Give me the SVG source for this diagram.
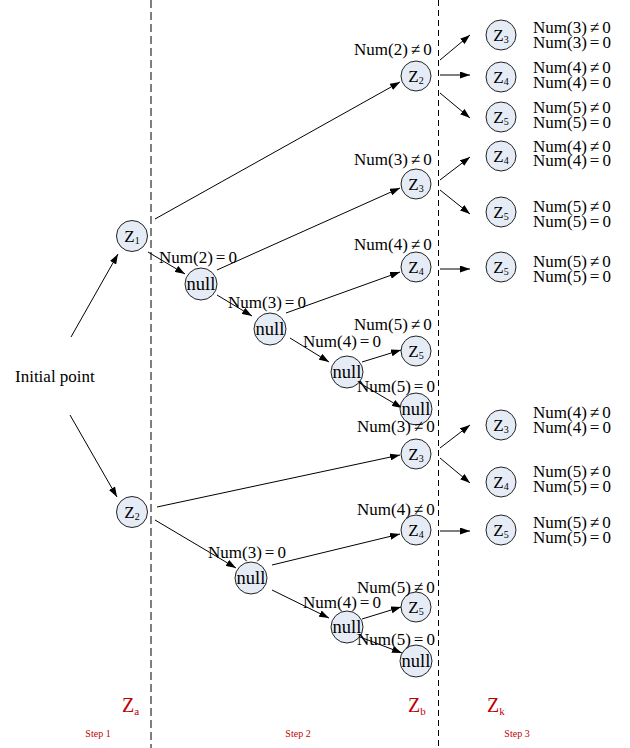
<svg xmlns="http://www.w3.org/2000/svg" width="630" height="748" viewBox="0 0 630 748">
<style>
text{font-family:"Liberation Serif","Times New Roman",serif;fill:#000}
.lbl{font-size:17px}
.nd circle{fill:#e6ecf6;stroke:#222;stroke-width:1}
.zt{font-size:17px}
.nt{font-size:18.5px}
.sub{font-size:10px}
.red{fill:#c00000}
.cn line{stroke:#000;stroke-width:1;marker-end:url(#ah)}
</style>
<defs>
<marker id="ah" viewBox="0 0 10 7" refX="10" refY="3.5" markerWidth="10" markerHeight="7" markerUnits="userSpaceOnUse" orient="auto"><path d="M0,0 L10,3.5 L0,7 z" fill="#000"/></marker>
</defs>
<g id="dividers">
<line x1="151" y1="0" x2="151" y2="748" stroke="#555" stroke-width="1.5" stroke-dasharray="8,4"/>
<line x1="438.5" y1="0" x2="438.5" y2="748" stroke="#000" stroke-width="1" stroke-dasharray="6,4"/>
</g>
<g id="connectors" class="cn">
<line x1="71" y1="337" x2="118" y2="254"/>
<line x1="70" y1="415" x2="117" y2="497"/>
<line x1="155" y1="219" x2="400" y2="82"/>
<line x1="148" y1="252" x2="185" y2="274"/>
<line x1="217" y1="270" x2="400" y2="188"/>
<line x1="217" y1="295" x2="252" y2="316"/>
<line x1="286" y1="313" x2="400" y2="272"/>
<line x1="290" y1="338" x2="329" y2="362"/>
<line x1="362" y1="362" x2="401" y2="350"/>
<line x1="358" y1="382" x2="402" y2="408"/>
<line x1="157" y1="507" x2="400" y2="455"/>
<line x1="155" y1="520" x2="236" y2="568"/>
<line x1="272" y1="565" x2="400" y2="534"/>
<line x1="272" y1="590" x2="329" y2="618"/>
<line x1="362" y1="619" x2="401" y2="607"/>
<line x1="360" y1="637" x2="402" y2="653"/>
<line x1="440" y1="60" x2="470" y2="35"/>
<line x1="440" y1="75" x2="470" y2="75"/>
<line x1="440" y1="93" x2="470" y2="118"/>
<line x1="440" y1="180" x2="470" y2="157"/>
<line x1="440" y1="190" x2="470" y2="214"/>
<line x1="440" y1="269" x2="470" y2="269"/>
<line x1="440" y1="448" x2="470" y2="425"/>
<line x1="440" y1="458" x2="470" y2="483"/>
<line x1="440" y1="531" x2="470" y2="531"/>
</g>
<g id="initial"><text class="lbl" x="15" y="382">Initial point</text></g>
<g id="z1" class="nd"><circle cx="132" cy="236" r="15.5"/><text class="zt" x="132" y="242" text-anchor="middle">Z<tspan class="sub" dy="2">1</tspan></text></g>
<g id="z2l" class="nd"><circle cx="132" cy="512" r="15.5"/><text class="zt" x="132" y="518" text-anchor="middle">Z<tspan class="sub" dy="2">2</tspan></text></g>
<g id="null1" class="nd"><circle cx="201" cy="284" r="16"/><text class="nt" x="201" y="290" text-anchor="middle">null</text></g>
<g id="null2" class="nd"><circle cx="270" cy="329" r="16"/><text class="nt" x="270" y="335" text-anchor="middle">null</text></g>
<g id="null3" class="nd"><circle cx="347" cy="372" r="16"/><text class="nt" x="347" y="378" text-anchor="middle">null</text></g>
<g id="null4" class="nd"><circle cx="416" cy="409" r="16"/><text class="nt" x="416" y="415" text-anchor="middle">null</text></g>
<g id="null5" class="nd"><circle cx="251" cy="578" r="16"/><text class="nt" x="251" y="584" text-anchor="middle">null</text></g>
<g id="null6" class="nd"><circle cx="347" cy="627" r="16"/><text class="nt" x="347" y="633" text-anchor="middle">null</text></g>
<g id="null7" class="nd"><circle cx="416" cy="661" r="16"/><text class="nt" x="416" y="667" text-anchor="middle">null</text></g>
<g id="m_z2" class="nd"><circle cx="416" cy="76" r="15"/><text class="zt" x="416" y="82" text-anchor="middle">Z<tspan class="sub" dy="2">2</tspan></text></g>
<g id="m_z3a" class="nd"><circle cx="416" cy="184" r="15"/><text class="zt" x="416" y="190" text-anchor="middle">Z<tspan class="sub" dy="2">3</tspan></text></g>
<g id="m_z4a" class="nd"><circle cx="416" cy="267" r="15"/><text class="zt" x="416" y="273" text-anchor="middle">Z<tspan class="sub" dy="2">4</tspan></text></g>
<g id="m_z5a" class="nd"><circle cx="416" cy="351" r="15"/><text class="zt" x="416" y="357" text-anchor="middle">Z<tspan class="sub" dy="2">5</tspan></text></g>
<g id="m_z3b" class="nd"><circle cx="416" cy="454" r="15"/><text class="zt" x="416" y="460" text-anchor="middle">Z<tspan class="sub" dy="2">3</tspan></text></g>
<g id="m_z4b" class="nd"><circle cx="416" cy="530" r="15"/><text class="zt" x="416" y="536" text-anchor="middle">Z<tspan class="sub" dy="2">4</tspan></text></g>
<g id="m_z5b" class="nd"><circle cx="416" cy="607" r="15"/><text class="zt" x="416" y="613" text-anchor="middle">Z<tspan class="sub" dy="2">5</tspan></text></g>
<g id="r_z3a" class="nd"><circle cx="501" cy="35" r="15"/><text class="zt" x="501" y="41" text-anchor="middle">Z<tspan class="sub" dy="2">3</tspan></text></g>
<g id="r_z4a" class="nd"><circle cx="501" cy="77" r="15"/><text class="zt" x="501" y="83" text-anchor="middle">Z<tspan class="sub" dy="2">4</tspan></text></g>
<g id="r_z5a" class="nd"><circle cx="501" cy="117" r="15"/><text class="zt" x="501" y="123" text-anchor="middle">Z<tspan class="sub" dy="2">5</tspan></text></g>
<g id="r_z4b" class="nd"><circle cx="501" cy="156" r="15"/><text class="zt" x="501" y="162" text-anchor="middle">Z<tspan class="sub" dy="2">4</tspan></text></g>
<g id="r_z5b" class="nd"><circle cx="501" cy="212" r="15"/><text class="zt" x="501" y="218" text-anchor="middle">Z<tspan class="sub" dy="2">5</tspan></text></g>
<g id="r_z5c" class="nd"><circle cx="501" cy="267" r="15"/><text class="zt" x="501" y="273" text-anchor="middle">Z<tspan class="sub" dy="2">5</tspan></text></g>
<g id="r_z3b" class="nd"><circle cx="501" cy="425" r="15"/><text class="zt" x="501" y="431" text-anchor="middle">Z<tspan class="sub" dy="2">3</tspan></text></g>
<g id="r_z4c" class="nd"><circle cx="501" cy="482" r="15"/><text class="zt" x="501" y="488" text-anchor="middle">Z<tspan class="sub" dy="2">4</tspan></text></g>
<g id="r_z5d" class="nd"><circle cx="501" cy="530" r="15"/><text class="zt" x="501" y="536" text-anchor="middle">Z<tspan class="sub" dy="2">5</tspan></text></g>
<g id="labels" class="lbl">
<text class="lbl" x="354" y="55">Num(2)<tspan dx="3">≠</tspan><tspan dx="3">0</tspan></text>
<text class="lbl" x="354" y="165">Num(3)<tspan dx="3">≠</tspan><tspan dx="3">0</tspan></text>
<text class="lbl" x="354" y="250">Num(4)<tspan dx="3">≠</tspan><tspan dx="3">0</tspan></text>
<text class="lbl" x="159" y="263">Num(2)<tspan dx="3">=</tspan><tspan dx="3">0</tspan></text>
<text class="lbl" x="228" y="308">Num(3)<tspan dx="3">=</tspan><tspan dx="3">0</tspan></text>
<text class="lbl" x="354" y="330">Num(5)<tspan dx="3">≠</tspan><tspan dx="3">0</tspan></text>
<text class="lbl" x="303" y="347">Num(4)<tspan dx="3">=</tspan><tspan dx="3">0</tspan></text>
<text class="lbl" x="357" y="392">Num(5)<tspan dx="3">=</tspan><tspan dx="3">0</tspan></text>
<text class="lbl" x="357" y="432">Num(3)<tspan dx="3">≠</tspan><tspan dx="3">0</tspan></text>
<text class="lbl" x="357" y="515">Num(4)<tspan dx="3">≠</tspan><tspan dx="3">0</tspan></text>
<text class="lbl" x="208" y="558">Num(3)<tspan dx="3">=</tspan><tspan dx="3">0</tspan></text>
<text class="lbl" x="357" y="593">Num(5)<tspan dx="3">≠</tspan><tspan dx="3">0</tspan></text>
<text class="lbl" x="303" y="608">Num(4)<tspan dx="3">=</tspan><tspan dx="3">0</tspan></text>
<text class="lbl" x="357" y="645">Num(5)<tspan dx="3">=</tspan><tspan dx="3">0</tspan></text>
<text class="lbl" x="533" y="33">Num(3)<tspan dx="3">≠</tspan><tspan dx="3">0</tspan></text>
<text class="lbl" x="533" y="48">Num(3)<tspan dx="3">=</tspan><tspan dx="3">0</tspan></text>
<text class="lbl" x="533" y="73">Num(4)<tspan dx="3">≠</tspan><tspan dx="3">0</tspan></text>
<text class="lbl" x="533" y="88">Num(4)<tspan dx="3">=</tspan><tspan dx="3">0</tspan></text>
<text class="lbl" x="533" y="113">Num(5)<tspan dx="3">≠</tspan><tspan dx="3">0</tspan></text>
<text class="lbl" x="533" y="128">Num(5)<tspan dx="3">=</tspan><tspan dx="3">0</tspan></text>
<text class="lbl" x="533" y="152">Num(4)<tspan dx="3">≠</tspan><tspan dx="3">0</tspan></text>
<text class="lbl" x="533" y="166">Num(4)<tspan dx="3">=</tspan><tspan dx="3">0</tspan></text>
<text class="lbl" x="533" y="212">Num(5)<tspan dx="3">≠</tspan><tspan dx="3">0</tspan></text>
<text class="lbl" x="533" y="227">Num(5)<tspan dx="3">=</tspan><tspan dx="3">0</tspan></text>
<text class="lbl" x="533" y="267">Num(5)<tspan dx="3">≠</tspan><tspan dx="3">0</tspan></text>
<text class="lbl" x="533" y="282">Num(5)<tspan dx="3">=</tspan><tspan dx="3">0</tspan></text>
<text class="lbl" x="533" y="418">Num(4)<tspan dx="3">≠</tspan><tspan dx="3">0</tspan></text>
<text class="lbl" x="533" y="433">Num(4)<tspan dx="3">=</tspan><tspan dx="3">0</tspan></text>
<text class="lbl" x="533" y="477">Num(5)<tspan dx="3">≠</tspan><tspan dx="3">0</tspan></text>
<text class="lbl" x="533" y="492">Num(5)<tspan dx="3">=</tspan><tspan dx="3">0</tspan></text>
<text class="lbl" x="533" y="528">Num(5)<tspan dx="3">≠</tspan><tspan dx="3">0</tspan></text>
<text class="lbl" x="533" y="543">Num(5)<tspan dx="3">=</tspan><tspan dx="3">0</tspan></text>
</g>
<g id="footer">
<text class="red" x="122" y="712" font-size="20">Z<tspan font-size="11" dy="3">a</tspan></text>
<text class="red" x="408" y="712" font-size="20">Z<tspan font-size="11" dy="3">b</tspan></text>
<text class="red" x="487" y="712" font-size="20">Z<tspan font-size="11" dy="3">k</tspan></text>
<text class="red" x="98" y="737" font-size="10" text-anchor="middle">Step 1</text>
<text class="red" x="298" y="737" font-size="10" text-anchor="middle">Step 2</text>
<text class="red" x="517" y="737" font-size="10" text-anchor="middle">Step 3</text>
</g>
</svg>
